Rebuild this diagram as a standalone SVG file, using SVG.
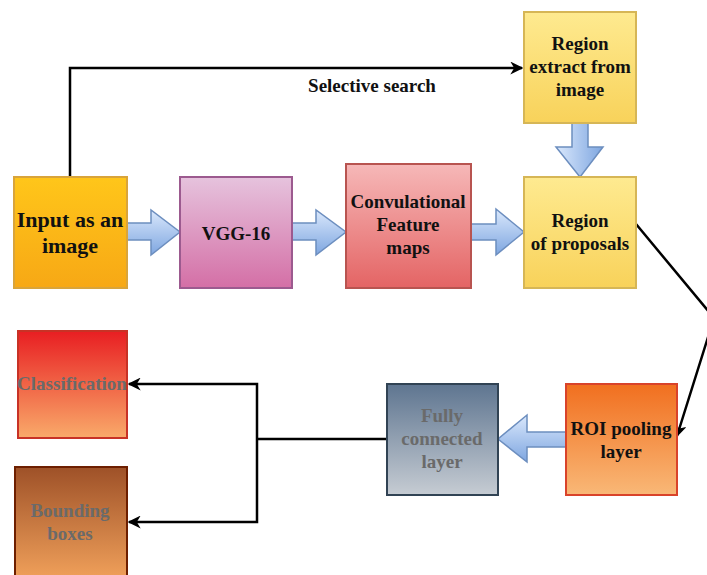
<svg xmlns="http://www.w3.org/2000/svg" width="707" height="575" viewBox="0 0 707 575">
  <defs>
    <linearGradient id="gInput" x1="0" y1="0" x2="0" y2="1"><stop offset="0" stop-color="#ffc61a"/><stop offset="1" stop-color="#f7a815"/></linearGradient>
    <linearGradient id="gVgg" x1="0" y1="0" x2="0" y2="1"><stop offset="0" stop-color="#e6c3dd"/><stop offset="1" stop-color="#d46fa6"/></linearGradient>
    <linearGradient id="gConv" x1="0" y1="0" x2="0" y2="1"><stop offset="0" stop-color="#f6b8b8"/><stop offset="1" stop-color="#e46464"/></linearGradient>
    <linearGradient id="gRegion" x1="0" y1="0" x2="0" y2="1"><stop offset="0" stop-color="#feea90"/><stop offset="1" stop-color="#f8d25a"/></linearGradient>
    <linearGradient id="gRoi" x1="0" y1="0" x2="0" y2="1"><stop offset="0" stop-color="#f16f1f"/><stop offset="1" stop-color="#f9b877"/></linearGradient>
    <linearGradient id="gFc" x1="0" y1="0" x2="0" y2="1"><stop offset="0" stop-color="#5e7590"/><stop offset="1" stop-color="#c6ccd3"/></linearGradient>
    <linearGradient id="gCls" x1="0" y1="0" x2="0" y2="1"><stop offset="0" stop-color="#e81e22"/><stop offset="1" stop-color="#f9aa6a"/></linearGradient>
    <linearGradient id="gBox" x1="0" y1="0" x2="0" y2="1"><stop offset="0" stop-color="#9e5128"/><stop offset="1" stop-color="#f6a65e"/></linearGradient>
    <linearGradient id="gBlueH" x1="0" y1="0" x2="0" y2="1"><stop offset="0" stop-color="#dae8fc"/><stop offset="1" stop-color="#7ea6e0"/></linearGradient>
    <linearGradient id="gBlueV" x1="0" y1="0" x2="1" y2="0"><stop offset="0" stop-color="#dae8fc"/><stop offset="1" stop-color="#7ea6e0"/></linearGradient>
    <marker id="head" viewBox="0 0 10 10" refX="9" refY="5" markerWidth="13" markerHeight="13" orient="auto" markerUnits="userSpaceOnUse">
      <path d="M0,0 L10,5 L0,10 L3,5 Z" fill="#000"/>
    </marker>
  </defs>
  <style>
    .node { stroke-width: 2; }
    .lbl { font-family: "Liberation Serif", "Times New Roman", serif; font-weight: bold; font-size: 19px; fill: #111; text-anchor: middle; }
    .big { font-size: 22px; }
    .grey { fill: #6a6a6a; }
    .wire { fill: none; stroke: #000; stroke-width: 2.5; }
    .fat { stroke: #6c8ebf; stroke-width: 1.5; }
  </style>
  <rect width="707" height="575" fill="#fff"/>

  <!-- connectors -->
  <g id="connectors">
    <polyline class="wire" points="70,176 70,68 522,68" marker-end="url(#head)"/>
    <text class="lbl" x="372" y="92" font-size="18">Selective search</text>
    <polyline class="wire" points="636,224 714,318 677,436" marker-end="url(#head)"/>
    <polyline class="wire" points="387,439 257,439"/>
    <polyline class="wire" points="257,439 257,384 129,384" marker-end="url(#head)"/>
    <polyline class="wire" points="257,439 257,522 129,522" marker-end="url(#head)"/>
    <!-- block arrows -->
    <path class="fat" fill="url(#gBlueH)" d="M127,223 H151 V210 L180,232 L151,255 V240 H127 Z"/>
    <path class="fat" fill="url(#gBlueH)" d="M292,223 H316 V210 L346,232 L316,255 V240 H292 Z"/>
    <path class="fat" fill="url(#gBlueH)" d="M471,224 H496 V209 L524,232 L496,255 V240 H471 Z"/>
    <path class="fat" fill="url(#gBlueV)" d="M572,123 H588 V147 H603 L580,177 L556,147 H572 Z"/>
    <path class="fat" fill="url(#gBlueH)" d="M566,432 H527 V415 L498,439 L527,462 V447 H566 Z"/>
  </g>

  <g id="input">
    <rect class="node" x="14" y="177" width="113" height="111" fill="url(#gInput)" stroke="#d9a43a"/>
    <text class="lbl big" x="70" y="227">Input as an</text>
    <text class="lbl big" x="70" y="253">image</text>
  </g>
  <g id="vgg16">
    <rect class="node" x="180" y="177" width="112" height="111" fill="url(#gVgg)" stroke="#9c5a8f"/>
    <text class="lbl" x="236" y="240">VGG-16</text>
  </g>
  <g id="conv">
    <rect class="node" x="346" y="164" width="125" height="124" fill="url(#gConv)" stroke="#b85450"/>
    <text class="lbl" x="408" y="208">Convulational</text>
    <text class="lbl" x="408" y="231">Feature</text>
    <text class="lbl" x="408" y="254">maps</text>
  </g>
  <g id="region-extract">
    <rect class="node" x="524" y="12" width="112" height="111" fill="url(#gRegion)" stroke="#d6b656"/>
    <text class="lbl" x="580" y="50">Region</text>
    <text class="lbl" x="580" y="73">extract from</text>
    <text class="lbl" x="580" y="96">image</text>
  </g>
  <g id="region-proposals">
    <rect class="node" x="524" y="177" width="112" height="111" fill="url(#gRegion)" stroke="#d6b656"/>
    <text class="lbl" x="580" y="227">Region</text>
    <text class="lbl" x="580" y="250">of proposals</text>
  </g>
  <g id="roi-pooling">
    <rect class="node" x="566" y="384" width="111" height="111" fill="url(#gRoi)" stroke="#d9432a"/>
    <text class="lbl" x="621" y="435">ROI pooling</text>
    <text class="lbl" x="621" y="458">layer</text>
  </g>
  <g id="fully-connected">
    <rect class="node" x="387" y="384" width="111" height="111" fill="url(#gFc)" stroke="#314354"/>
    <text class="lbl grey" x="442" y="422">Fully</text>
    <text class="lbl grey" x="442" y="445">connected</text>
    <text class="lbl grey" x="442" y="468">layer</text>
  </g>
  <g id="classification">
    <rect class="node" x="18" y="331" width="109" height="107" fill="url(#gCls)" stroke="#c83226"/>
    <text class="lbl grey" x="72" y="390">Classification</text>
  </g>
  <g id="bounding-boxes">
    <rect class="node" x="15" y="467" width="112" height="120" fill="url(#gBox)" stroke="#6d1f00"/>
    <text class="lbl grey" x="70" y="517">Bounding</text>
    <text class="lbl grey" x="70" y="540">boxes</text>
  </g>
</svg>
